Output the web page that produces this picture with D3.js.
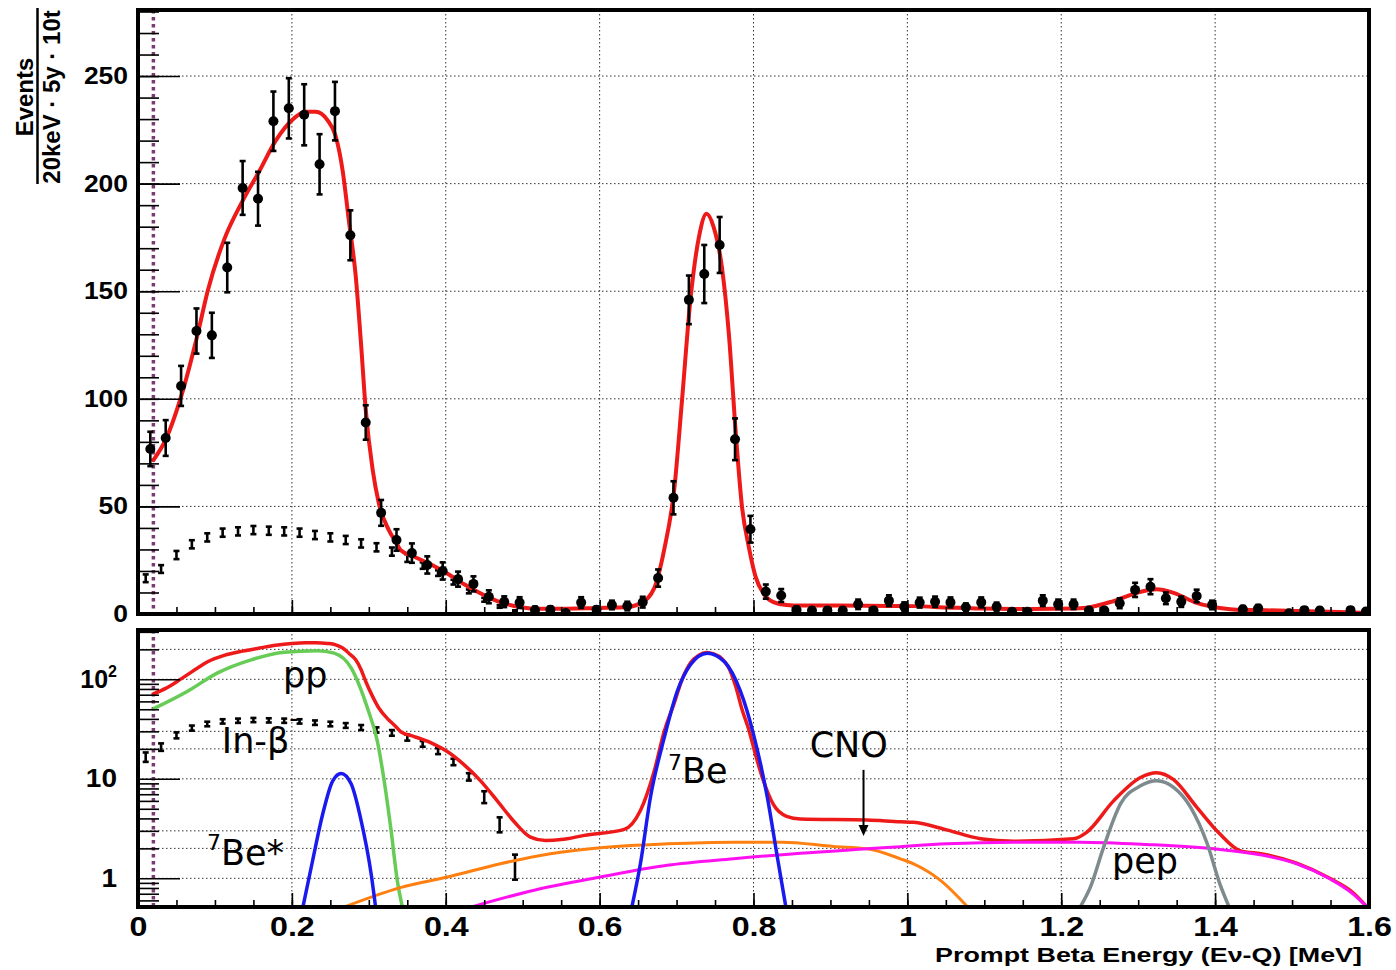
<!DOCTYPE html>
<html>
<head>
<meta charset="utf-8">
<script src="https://cdn.jsdelivr.net/npm/d3@7/dist/d3.min.js"></script>
<style>
html,body{margin:0;padding:0;background:#fff;}
svg{display:block;}
</style>
</head>
<body>
<svg id="chart" width="1396" height="970"></svg>
<script>
// ================= DATA =================
// measured spectrum (black points), 20 keV bins (centres as read from the picture)
const dataEnergy = [0.016,0.036,0.056,0.076,0.096,0.116,0.136,0.156,0.176,0.196,0.216,0.236,0.256,0.276,0.296,0.316,0.336,0.356,0.376,0.396,
  0.416,0.436,0.456,0.476,0.496,0.516,0.536,0.556,0.576,0.596,0.616,0.636,0.656,0.676,0.696,0.716,0.736,0.756,0.776,0.796,
  0.816,0.836,0.856,0.876,0.896,0.916,0.936,0.956,0.976,0.996,1.016,1.036,1.056,1.076,1.096,1.116,1.136,1.156,1.176,1.196,
  1.216,1.236,1.256,1.276,1.296,1.316,1.336,1.356,1.376,1.396,1.436,1.456,1.496,1.516,1.536,1.576,1.596];
const dataCounts = [76.7,81.8,106,131.5,129.5,161,198,193,229,235,232,209,233.7,176,89,47,34.4,28.3,22.8,20,
  16.2,14,8,5.7,5.3,1.9,2,0.5,5.3,2,4.2,3.7,5.5,16.7,54,146,158,171.5,81.2,39.4,
  10.4,8.6,1.9,1.6,1.6,1.6,4.5,1.6,6.2,3.4,5.3,5.7,5.4,3.1,5.4,3.4,1.1,1.1,6.2,4.5,
  4.5,1.6,1.6,5,11.2,12.7,7.3,5.7,8.4,4.2,2.2,2.6,0.3,1.8,1.6,1.8,1.2];
const dataErr = [8,8.3,9.3,10.5,10.5,11.5,12.5,12.5,13.8,14,14.2,14,13.6,11.6,8,6,5,4.5,4,4,
  3.5,3.5,3,2.5,2.5,1.5,1.5,1,2.5,1.5,2,2,2.5,4,7.7,11.3,13.5,13,9.7,6.2,
  3.3,3,1.5,1.4,1.4,1.4,2.2,1.4,2.5,2,2.3,2.4,2.3,1.8,2.3,1.9,1.1,1.1,2.5,2.2,
  2.2,1.4,1.4,2.3,3.3,3.5,2.7,2.4,2.9,2,1.5,1.6,0.6,1.3,1.3,1.3,1.1];

// In-beta background (small markers)
const inbEnergy = [0.01,0.03,0.05,0.07,0.09,0.11,0.13,0.15,0.17,0.19,0.21,0.23,0.25,0.27,0.29,0.31,0.33,0.35,0.37,0.39,0.41,0.43,0.45,0.47,0.49];
const inbCounts = [16.6,20.9,27.4,32.4,35.6,37.8,38.4,39,38.7,38.4,37.8,36.7,35.6,34.4,32.8,31,29,26,22.5,19,14.8,10.5,6.6,3.5,1.35];
const inbErr    = [1.8,1.8,1.9,1.9,1.9,1.9,1.9,1.9,1.9,1.9,1.9,1.9,1.9,1.9,1.9,1.9,1.9,1.8,1.5,1.3,1.1,0.9,0.9,0.6,0.38];

// total fit (red)
const totalEnergy = [0.020,0.036,0.056,0.0775,0.0905,0.112,0.136,0.158,0.179,0.200,0.218,0.231,0.246,0.257,0.266,0.274,0.283,0.290,0.296,0.305,
  0.313,0.326,0.335,0.342,0.359,0.381,0.402,0.424,0.445,0.467,0.489,0.510,0.530,0.550,0.580,0.632,0.653,0.671,0.684,0.697,
  0.707,0.718,0.729,0.739,0.748,0.759,0.768,0.777,0.785,0.794,0.803,0.813,0.826,0.843,0.861,0.948,0.991,1.008,1.051,1.095,
  1.138,1.216,1.233,1.268,1.303,1.324,1.346,1.376,1.406,1.432,1.463,1.506,1.549,1.579,1.597];
const totalCounts = [71.5,81,101,130,150,174,192,206,220,229.5,233.4,233.4,229.6,222,206,183,157,125,95,67,
  51.5,39,33.6,29.5,26.6,23,18.8,13.8,9.6,6.0,3.7,2.6,2.4,2.45,2.7,3.1,4.8,12,30,58,
  99,146,175,186,180,161,130,84,50,31,17,9.5,5.5,4.2,3.95,3.86,3.7,3.66,3.07,2.5,
  2.36,2.5,2.9,6.0,10.3,11.5,9.8,5.2,2.8,1.9,1.75,1.42,1.0,0.72,0.52];

// components (log panel)
const ppEnergy = [0.021,0.0645,0.1035,0.147,0.19,0.233,0.255,0.277,0.298,0.311,0.32,0.329,0.337,0.344];
const ppCounts = [51,76,116,157,187,194,183,130,52,24,9.5,3,0.95,0.5];
const be7sEnergy = [0.214,0.227,0.24,0.253,0.264,0.277,0.29,0.303,0.309];
const be7sCounts = [0.5,1.51,4.4,9.5,11.3,8.9,3.8,1.11,0.5];
const be7Energy = [0.642,0.653,0.666,0.684,0.701,0.718,0.74,0.762,0.783,0.8,0.818,0.831,0.842];
const be7Counts = [0.52,1.4,6.5,25.9,76,140,183,151,76,28,6.5,1.63,0.52];
const n13Energy = [0.264,0.342,0.402,0.471,0.536,0.601,0.688,0.774,0.838,0.904,0.948,0.991,1.008,1.043,1.08];
const n13Counts = [0.5,0.81,1.03,1.4,1.77,2.03,2.22,2.31,2.31,2.09,1.98,1.57,1.4,0.955,0.5];
const o15Energy = [0.435,0.515,0.601,0.688,0.774,0.861,0.948,0.991,1.051,1.138,1.225,1.311,1.398,1.463,1.506,1.549,1.579,1.597];
const o15Counts = [0.52,0.76,1.03,1.35,1.57,1.79,1.98,2.08,2.22,2.31,2.31,2.19,1.98,1.7,1.4,0.99,0.70,0.52];
const pepEnergy = [1.225,1.238,1.255,1.277,1.303,1.324,1.346,1.368,1.39,1.406,1.418];
const pepCounts = [0.52,0.82,2.05,5.6,8.5,9.55,8.2,5.2,2.2,0.885,0.52];

const thresholdEnergy = 0.02;

// axes
const xTickValues = [0,0.2,0.4,0.6,0.8,1.0,1.2,1.4,1.6];
const xTickLabels = ['0','0.2','0.4','0.6','0.8','1','1.2','1.4','1.6'];
const xGridValues = [0.2,0.4,0.6,0.8,1.0,1.2,1.4];
const yTopTicks = [0,50,100,150,200,250];
const yTopGrid = [50,100,150,200,250];
const yBotTicks = [1,10,100];
const yBotTickLabels = ['1','10','10'];
const yBotGrid = [1,2,3,10,20,30,100,200];
const yBotMinor = [0.6,0.7,0.8,0.9,2,3,4,5,6,7,8,9,20,30,40,50,60,70,80,90,200,300];

// ================= DRAW =================
const svg = d3.select('#chart');
const L=138, R=1369, T1=10, B1=614, T2=630, B2=907;
const x  = d3.scaleLinear().domain([0,1.6]).range([L,R]);
const yT = d3.scaleLinear().domain([0,280.7]).range([B1,T1]);
const yB = d3.scaleLog().domain([0.515,313]).range([B2,T2]);

const BOLD = "'Liberation Sans', Arial, Helvetica, sans-serif";
const REG  = "'DejaVu Sans', Verdana, sans-serif";

svg.append('rect').attr('width',1396).attr('height',970).attr('fill','#fff');

const defs = svg.append('defs');
[['clipTop',T1,B1],['clipBot',T2,B2]].forEach(([id,t,b])=>{
  defs.append('clipPath').attr('id',id).append('rect')
    .attr('x',L).attr('y',t).attr('width',R-L).attr('height',b-t);
});

function gridlines(yScale, yVals, t, b){
  const g = svg.append('g').attr('stroke','#333').attr('stroke-width',1).attr('stroke-dasharray','1.5,2.5');
  g.selectAll('line.v').data(xGridValues).join('line').attr('class','v')
    .attr('x1',d=>x(d)).attr('x2',d=>x(d)).attr('y1',t).attr('y2',b);
  g.selectAll('line.h').data(yVals).join('line').attr('class','h')
    .attr('x1',L).attr('x2',R).attr('y1',d=>yScale(d)).attr('y2',d=>yScale(d));
}
gridlines(yT, yTopGrid, T1, B1);
gridlines(yB, yBotGrid, T2, B2);

// threshold dotted line
[[T1,B1],[T2,B2]].forEach(([t,b])=>{
  svg.append('line').attr('x1',x(thresholdEnergy)).attr('x2',x(thresholdEnergy)).attr('y1',t).attr('y2',b)
    .attr('stroke','#7a3c70').attr('stroke-width',3.5).attr('stroke-dasharray','3.5,3.5');
});

const gTop = svg.append('g').attr('clip-path','url(#clipTop)');
const gBot = svg.append('g').attr('clip-path','url(#clipBot)');

function curve(g, xs, ys, yScale, color, w){
  g.append('path').datum(d3.zip(xs,ys))
    .attr('d', d3.line().x(d=>x(d[0])).y(d=>yScale(d[1])).curve(d3.curveMonotoneX))
    .attr('fill','none').attr('stroke',color).attr('stroke-width',w)
    .attr('stroke-linejoin','round').attr('stroke-linecap','round');
}

function errMarks(g, xs, ys, es, yScale, capHalf, sw, r){
  const pts = d3.zip(xs,ys,es);
  const gg = g.append('g').attr('stroke','#000').attr('stroke-width',sw);
  gg.selectAll('line.bar').data(pts).join('line').attr('class','bar')
    .attr('x1',d=>x(d[0])).attr('x2',d=>x(d[0]))
    .attr('y1',d=>yScale(Math.max(d[1]-d[2],0.01))).attr('y2',d=>yScale(d[1]+d[2]));
  gg.selectAll('line.ct').data(pts).join('line').attr('class','ct')
    .attr('x1',d=>x(d[0])-capHalf).attr('x2',d=>x(d[0])+capHalf)
    .attr('y1',d=>yScale(d[1]+d[2])).attr('y2',d=>yScale(d[1]+d[2]));
  gg.selectAll('line.cb').data(pts).join('line').attr('class','cb')
    .attr('x1',d=>x(d[0])-capHalf).attr('x2',d=>x(d[0])+capHalf)
    .attr('y1',d=>yScale(Math.max(d[1]-d[2],0.01))).attr('y2',d=>yScale(Math.max(d[1]-d[2],0.01)));
  if (r>0){
    g.selectAll(null).data(pts).join('circle')
      .attr('cx',d=>x(d[0])).attr('cy',d=>yScale(d[1])).attr('r',r).attr('fill','#000');
  }
}

// --- top panel
errMarks(gTop, inbEnergy, inbCounts, inbErr, yT, 3, 2.6, 0);
curve(gTop, totalEnergy, totalCounts, yT, '#ee1a1a', 4);
errMarks(gTop, dataEnergy, dataCounts, dataErr, yT, 3, 2.6, 5);

// --- bottom panel
errMarks(gBot, inbEnergy, inbCounts, inbErr, yB, 3, 2.6, 0);
curve(gBot, totalEnergy, totalCounts, yB, '#ee1a1a', 3.5);
curve(gBot, ppEnergy, ppCounts, yB, '#66cc55', 3.5);
curve(gBot, n13Energy, n13Counts, yB, '#ff8010', 3);
curve(gBot, o15Energy, o15Counts, yB, '#ff10f0', 3);
curve(gBot, pepEnergy, pepCounts, yB, '#7d8b8f', 3.5);
curve(gBot, be7sEnergy, be7sCounts, yB, '#1a1aee', 3.5);
curve(gBot, be7Energy, be7Counts, yB, '#1a1aee', 3.5);

// ---------- axes / ticks ----------
function clean(g){ g.select('.domain').remove(); g.selectAll('line').attr('stroke','#000').attr('stroke-width',1.6); return g; }

clean(svg.append('g').attr('transform',`translate(${L},0)`).call(d3.axisRight(yT).tickValues(d3.range(10,281,10)).tickSize(21).tickFormat('')));
clean(svg.append('g').attr('transform',`translate(${L},0)`).call(d3.axisRight(yT).tickValues(yTopTicks).tickSize(42).tickFormat('')));
clean(svg.append('g').attr('transform',`translate(${L},0)`).call(d3.axisRight(yB).tickValues(yBotMinor).tickSize(21).tickFormat('')));
clean(svg.append('g').attr('transform',`translate(${L},0)`).call(d3.axisRight(yB).tickValues(yBotTicks).tickSize(42).tickFormat('')));
[B1,B2].forEach(b=>{
  clean(svg.append('g').attr('transform',`translate(0,${b})`).call(d3.axisTop(x).tickValues(d3.range(0.05,1.6,0.05)).tickSize(7).tickFormat('')));
  clean(svg.append('g').attr('transform',`translate(0,${b})`).call(d3.axisTop(x).tickValues(xTickValues).tickSize(14).tickFormat('')));
});

function stretch(sel, f){
  sel.each(function(){ const w=this.getComputedTextLength(); d3.select(this).attr('textLength',w*f).attr('lengthAdjust','spacingAndGlyphs'); });
}

const yLabTop = svg.append('g').attr('transform',`translate(${L},0)`)
  .call(d3.axisLeft(yT).tickValues(yTopTicks).tickSize(0).tickPadding(10));
yLabTop.select('.domain').remove();
yLabTop.attr('font-family',BOLD).attr('font-weight','bold').attr('font-size',23);
yLabTop.selectAll('text').attr('fill','#000');
stretch(yLabTop.selectAll('text'),1.15);

const yLabBot = svg.append('g').attr('transform',`translate(${L},0)`)
  .call(d3.axisLeft(yB).tickValues(yBotTicks).tickSize(0).tickPadding(21).tickFormat((d,i)=>yBotTickLabels[i]));
yLabBot.select('.domain').remove();
yLabBot.attr('font-family',BOLD).attr('font-weight','bold').attr('font-size',25);
yLabBot.selectAll('text').attr('fill','#000');
stretch(yLabBot.selectAll('text'),1.12);
yLabBot.selectAll('.tick').filter(d=>d===100).select('text')
  .attr('textLength',null)
  .append('tspan').text('2').attr('font-size',16).attr('dy',-11);

const xLab = svg.append('g').attr('transform',`translate(0,${B2})`)
  .call(d3.axisBottom(x).tickValues(xTickValues).tickSize(0).tickPadding(9).tickFormat((d,i)=>xTickLabels[i]));
xLab.select('.domain').remove();
xLab.attr('font-family',BOLD).attr('font-weight','bold').attr('font-size',28);
xLab.selectAll('text').attr('fill','#000');
stretch(xLab.selectAll('text'),1.15);

[[T1,B1],[T2,B2]].forEach(([t,b])=>{
  svg.append('rect').attr('x',L).attr('y',t).attr('width',R-L).attr('height',b-t)
    .attr('fill','none').attr('stroke','#000').attr('stroke-width',4);
});

svg.append('text').attr('x',1362).attr('y',962).attr('text-anchor','end')
  .attr('font-family',BOLD).attr('font-weight','bold').attr('font-size',20)
  .attr('textLength',427).attr('lengthAdjust','spacingAndGlyphs')
  .text('Prompt Beta Energy (Eν-Q) [MeV]');

svg.append('text').attr('transform','translate(33,97) rotate(-90)').attr('text-anchor','middle')
  .attr('font-family',BOLD).attr('font-weight','bold').attr('font-size',24).text('Events');
svg.append('line').attr('x1',37.5).attr('x2',37.5).attr('y1',8).attr('y2',184).attr('stroke','#000').attr('stroke-width',2.5);
svg.append('text').attr('transform','translate(59.5,97) rotate(-90)').attr('text-anchor','middle')
  .attr('font-family',BOLD).attr('font-weight','bold').attr('font-size',24).text('20keV · 5y · 10t');

// ---------- annotations in log panel ----------
function note(parts, e, v){
  const t = svg.append('text').attr('x',x(e)).attr('y',yB(v)).attr('font-family',REG).attr('fill','#000');
  parts.forEach(p=>{
    t.append('tspan').text(p[0]).attr('font-size',p[1]).attr('dy',p[2]);
  });
}
note([['pp',35,0]], 0.1885, 83);
note([['In-β',35,0],['-',26,-26]], 0.109, 18.2);
note([['7',22,-15],['Be*',35,15]], 0.0897, 1.36);
note([['7',22,-13],['Be',35,13]], 0.689, 9.08);
note([['CNO',35,0]], 0.873, 16.6);
note([['pep',35,0]], 1.266, 1.14);

const arrowE = 0.943, arrowFrom = 12.3, arrowTo = 2.66;
svg.append('line').attr('x1',x(arrowE)).attr('x2',x(arrowE)).attr('y1',yB(arrowFrom)).attr('y2',yB(arrowTo)-8)
  .attr('stroke','#000').attr('stroke-width',2);
svg.append('path').attr('d',`M${x(arrowE)-5},${yB(arrowTo)-11} L${x(arrowE)+5},${yB(arrowTo)-11} L${x(arrowE)},${yB(arrowTo)} Z`).attr('fill','#000');
</script>
</body>
</html>
